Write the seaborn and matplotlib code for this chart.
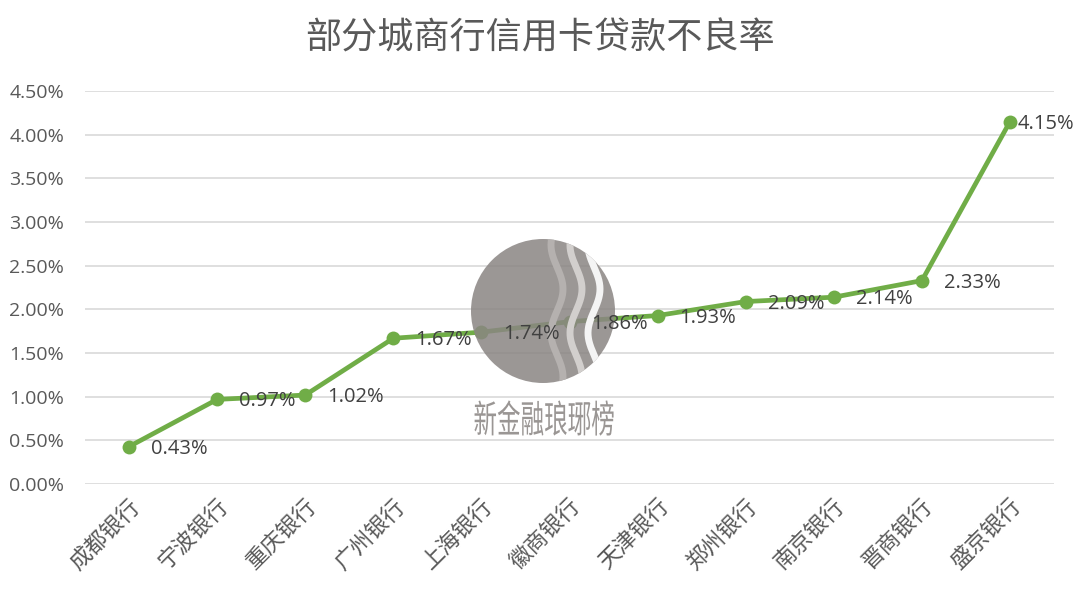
import numpy as np
import pandas as pd
import matplotlib.pyplot as plt
import seaborn as sns
from matplotlib.patches import Circle, PathPatch
from matplotlib.textpath import TextPath
from matplotlib.font_manager import FontProperties
from matplotlib.transforms import IdentityTransform, Affine2D

# data
banks = ['成都银行', '宁波银行', '重庆银行', '广州银行', '上海银行', '徽商银行',
         '天津银行', '郑州银行', '南京银行', '晋商银行', '盛京银行']
npl_rate = [0.43, 0.97, 1.02, 1.67, 1.74, 1.86, 1.93, 2.09, 2.14, 2.33, 4.15]
y_ticks = [0.0, 0.5, 1.0, 1.5, 2.0, 2.5, 3.0, 3.5, 4.0, 4.5]

df = pd.DataFrame({'bank': banks, 'rate': npl_rate})

sns.set_style('white')
plt.rcParams['font.family'] = ['Open Sans', 'Noto Sans CJK SC', 'DejaVu Sans']

fig = plt.figure(figsize=(10.8, 5.97), dpi=100)
ax = fig.add_axes([0.0787, 0.189, 0.8973, 0.6586])

green = '#70AD47'
sns.lineplot(data=df, x='bank', y='rate', sort=False, color=green, linewidth=3.4,
             marker='o', markersize=10, markeredgewidth=0, ax=ax, zorder=3)

ax.set_ylim(0, 4.5)
ax.set_xlim(-0.5, len(banks) - 0.5)
ax.set_yticks(y_ticks)
ax.set_yticklabels([f'{v:.2f}%' for v in y_ticks], color='#595959', fontsize=14)
ax.yaxis.grid(True, color='#D9D9D9', linewidth=1.2)
ax.set_axisbelow(True)
for s in ax.spines.values():
    s.set_visible(False)
ax.tick_params(axis='x', length=0, pad=8)
ax.tick_params(axis='y', length=0, pad=15)
plt.setp(ax.get_xticklabels(), rotation=45, ha='right', rotation_mode='anchor',
         color='#595959', fontsize=16, fontfamily=['Noto Sans CJK SC'], fontweight='light')
ax.set_xlabel('')
ax.set_ylabel('')

# watermark circle, drawn inside the axes so the labels can sit on top of it
cx, cy, r = 543, 597 - 311, 72
circ = Circle((cx, cy), r, transform=IdentityTransform(), facecolor='#8a8583',
              alpha=0.85, edgecolor='none', zorder=5, clip_on=False)
ax.add_patch(circ)
t = np.linspace(cy - r, cy + r, 200)
for x0, col in [(557, '#b5b1af'), (576, '#d2cfcd'), (594, '#f4f4f4')]:
    ln = plt.Line2D(x0 + 6 * np.sin((t - cy) / 14.0), t, transform=IdentityTransform(),
                    color=col, linewidth=5, zorder=5.5)
    ax.add_line(ln)
    ln.set_clip_path(circ)

tp = TextPath((0, 0), '新金融琅琊榜', size=38,
              prop=FontProperties(family='Noto Sans CJK SC', weight='light'))
ext = tp.get_extents()
sx = 0.62
tr = Affine2D().translate(-ext.x0 - ext.width / 2, -ext.y0 - ext.height / 2) \
    .scale(sx, 1.0).translate(544, 597 - 418)
ax.add_patch(PathPatch(tp, transform=tr + IdentityTransform(), facecolor='#9a9694',
                       edgecolor='none', zorder=5, clip_on=False))

# data labels to the right of each point
for i, v in enumerate(npl_rate):
    dx = 8 if i == len(npl_rate) - 1 else 22
    ax.annotate(f'{v:.2f}%', (i, v), xytext=(dx, -2), textcoords='offset pixels',
                ha='left', va='center', fontsize=14.5, color='#404040', zorder=6)

fig.suptitle('部分城商行信用卡贷款不良率', y=0.965, fontsize=26, color='#595959',
             fontfamily=['Noto Sans CJK SC'])

fig.savefig('out.png', dpi=100)
